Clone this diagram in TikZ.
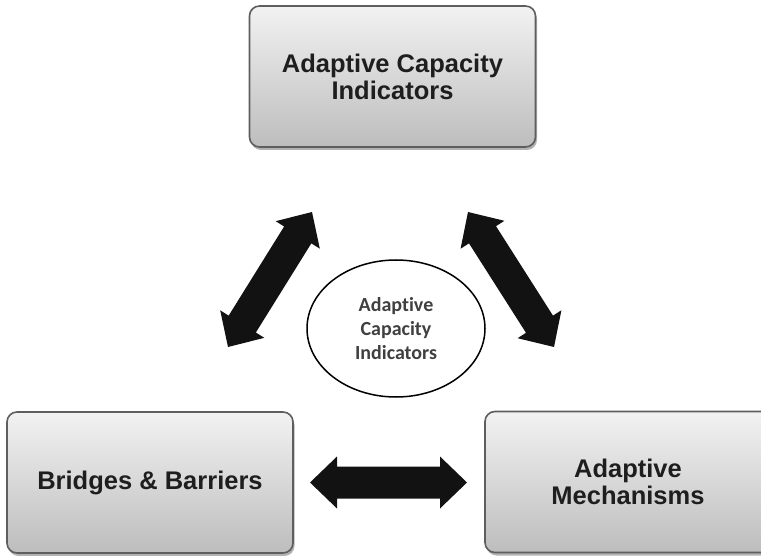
\documentclass[tikz,border=0pt]{standalone}
\usepackage{fontspec}
\usetikzlibrary{calc,shadows,shapes.geometric}
\newfontfamily\boxfont{Liberation Sans}
\newfontfamily\ovalfont{Carlito}[Ligatures={NoCommon}]
\definecolor{boxedge}{HTML}{5E5E5E}
\definecolor{boxtop}{HTML}{F2F2F2}
\definecolor{boxbottom}{HTML}{BDBDBD}
\definecolor{inktext}{HTML}{1E1E1E}
\definecolor{arrowink}{HTML}{121212}

% thick double-headed block arrow between two named points
\newcommand\blockarrow[2]{%
  \fill[arrowink]
    (#1)
    -- ($($(#1)!27pt!(#2)$)!26pt!90:(#2)$)
    -- ($($(#1)!27pt!(#2)$)!16pt!90:(#2)$)
    -- ($($(#2)!27pt!(#1)$)!16pt!-90:(#1)$)
    -- ($($(#2)!27pt!(#1)$)!26pt!-90:(#1)$)
    -- (#2)
    -- ($($(#2)!27pt!(#1)$)!26pt!90:(#1)$)
    -- ($($(#2)!27pt!(#1)$)!16pt!90:(#1)$)
    -- ($($(#1)!27pt!(#2)$)!16pt!-90:(#2)$)
    -- ($($(#1)!27pt!(#2)$)!26pt!-90:(#2)$)
    -- cycle;}

\tikzset{
  greybox/.style={
    rectangle, rounded corners=10pt, draw=boxedge, line width=1.6pt,
    top color=boxtop, bottom color=boxbottom,
    minimum width=286pt, minimum height=141pt, inner sep=0pt,
    align=center, text=inktext,
    font=\boxfont\bfseries\fontsize{25.5}{27}\selectfont,
    drop shadow={shadow xshift=1.5pt, shadow yshift=-3pt, opacity=0.3, fill=black}},
  oval/.style={
    ellipse, draw=black, line width=1.5pt, fill=white,
    minimum width=178pt, minimum height=137pt, inner sep=0pt,
    align=center, text=inktext!85!white,
    font=\ovalfont\bfseries\fontsize{20}{24}\selectfont}
}

\begin{document}
\begin{tikzpicture}[x=1pt,y=-1pt]
  \useasboundingbox[fill=white] (0,0) rectangle (761,556);

  % the three boxes
  \node[greybox] (aci) at (392.5,76.5) {Adaptive Capacity\\Indicators};
  \node[greybox] (bb)  at (150,482.5) {Bridges \& Barriers};
  \node[greybox] (am)  at (628,482)   {Adaptive\\Mechanisms};

  % central ellipse
  \node[oval] (core) at (396,328.5) {Adaptive\\Capacity\\Indicators};

  % end points of the block arrows
  \coordinate (l1) at (312,212);
  \coordinate (l2) at (228,347);
  \coordinate (r1) at (468,212);
  \coordinate (r2) at (554,347);
  \coordinate (h1) at (310,482.5);
  \coordinate (h2) at (467,482.5);

  \blockarrow{l1}{l2}
  \blockarrow{r1}{r2}
  \blockarrow{h1}{h2}
\end{tikzpicture}
\end{document}
